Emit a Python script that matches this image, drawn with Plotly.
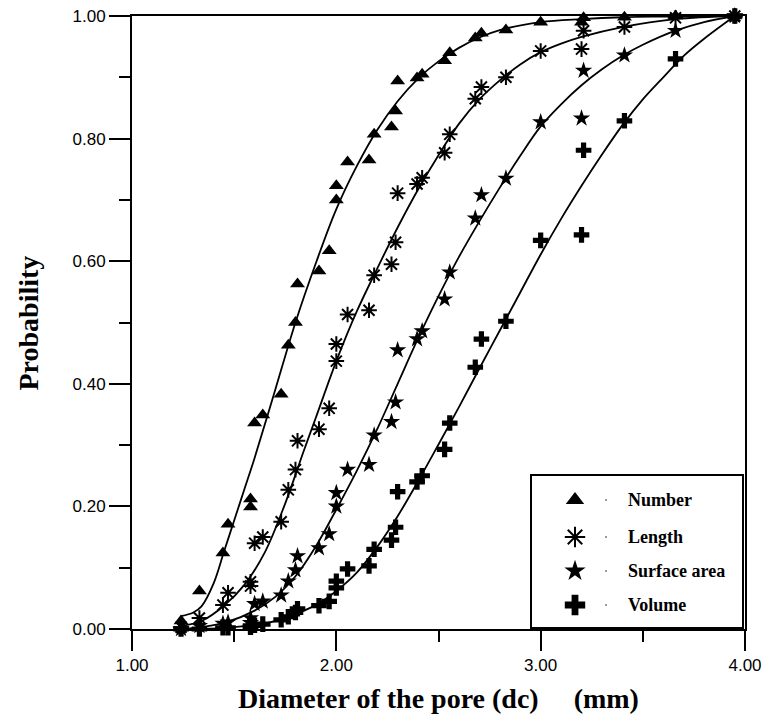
import plotly.graph_objects as go

# ---------------- data ----------------
series_names = ["Number", "Length", "Surface area", "Volume"]

x_points = [1.24, 1.33, 1.445, 1.47, 1.58, 1.58, 1.60, 1.64, 1.73, 1.765, 1.80, 1.81,
            1.915, 1.965, 2.0, 2.0, 2.055, 2.16, 2.185, 2.27, 2.29, 2.30, 2.395, 2.42,
            2.53, 2.555, 2.68, 2.71, 2.83, 3.0, 3.2, 3.21, 3.41, 3.66, 3.95]

number_y = [0.013, 0.062, 0.124, 0.171, 0.199, 0.212, 0.336, 0.349, 0.383, 0.463, 0.50, 0.563,
            0.584, 0.617, 0.70, 0.723, 0.762, 0.765, 0.807, 0.819, 0.845, 0.894, 0.899, 0.905,
            0.927, 0.94, 0.964, 0.972, 0.977, 0.99, 0.99, 0.997, 0.998, 1.0, 1.0]
length_y = [0.003, 0.018, 0.039, 0.059, 0.07, 0.077, 0.14, 0.15, 0.175, 0.227, 0.26, 0.307,
            0.326, 0.36, 0.437, 0.465, 0.513, 0.52, 0.577, 0.595, 0.631, 0.711, 0.726, 0.736,
            0.777, 0.807, 0.865, 0.884, 0.90, 0.943, 0.946, 0.976, 0.982, 0.997, 1.0]
surface_y = [0.0, 0.005, 0.009, 0.011, 0.01, 0.018, 0.041, 0.045, 0.055, 0.078, 0.096, 0.119,
             0.132, 0.155, 0.20, 0.222, 0.26, 0.268, 0.316, 0.338, 0.37, 0.455, 0.473, 0.486,
             0.538, 0.582, 0.67, 0.708, 0.735, 0.827, 0.833, 0.911, 0.936, 0.976, 1.0]
volume_y = [0.0, 0.0, 0.002, 0.002, 0.003, 0.005, 0.006, 0.008, 0.015, 0.02, 0.027, 0.033,
            0.038, 0.045, 0.067, 0.078, 0.098, 0.103, 0.13, 0.145, 0.166, 0.224, 0.24, 0.25,
            0.293, 0.336, 0.427, 0.473, 0.502, 0.634, 0.643, 0.781, 0.829, 0.93, 1.0]

# fitted curves
number_fit_x = [1.24, 1.30, 1.34, 1.40, 1.45, 1.50, 1.55, 1.60, 1.70, 1.80, 1.90, 2.0, 2.1,
                2.2, 2.3, 2.4, 2.5, 2.6, 2.7, 2.8, 3.0, 3.2, 3.4, 3.6, 3.95]
number_fit_y = [0.021, 0.027, 0.037, 0.075, 0.126, 0.177, 0.228, 0.279, 0.389, 0.50, 0.597,
                0.685, 0.755, 0.814, 0.861, 0.898, 0.926, 0.948, 0.965, 0.977, 0.99, 0.995,
                0.998, 0.999, 1.0]
length_fit_x = [1.24, 1.34, 1.45, 1.55, 1.65, 1.75, 1.84, 1.9, 2.0, 2.1, 2.2, 2.3, 2.4, 2.5,
                2.6, 2.7, 2.8, 2.9, 3.0, 3.1, 3.2, 3.4, 3.66, 3.95]
length_fit_y = [0.005, 0.013, 0.038, 0.072, 0.125, 0.205, 0.29, 0.345, 0.437, 0.518, 0.588,
                0.655, 0.717, 0.773, 0.824, 0.864, 0.895, 0.921, 0.941, 0.955, 0.966, 0.982,
                0.995, 1.0]
surface_fit_x = [1.24, 1.34, 1.47, 1.6, 1.7, 1.8, 1.9, 2.0, 2.1, 2.2, 2.3, 2.4, 2.5, 2.6,
                 2.7, 2.8, 2.9, 3.0, 3.1, 3.2, 3.3, 3.4, 3.5, 3.66, 3.8, 3.95]
surface_fit_y = [0.0, 0.003, 0.012, 0.03, 0.052, 0.086, 0.135, 0.195, 0.258, 0.326, 0.40,
                 0.474, 0.543, 0.607, 0.665, 0.72, 0.772, 0.82, 0.856, 0.887, 0.913, 0.935,
                 0.953, 0.976, 0.99, 1.0]
volume_fit_x = [1.24, 1.34, 1.5, 1.665, 1.79, 1.91, 2.0, 2.1, 2.2, 2.3, 2.4, 2.5, 2.6, 2.7,
                2.8, 2.9, 3.0, 3.1, 3.2, 3.3, 3.4, 3.5, 3.6, 3.7, 3.8, 3.95]
volume_fit_y = [0.0, 0.0, 0.003, 0.01, 0.023, 0.041, 0.062, 0.092, 0.134, 0.184, 0.241, 0.301,
                0.362, 0.425, 0.487, 0.549, 0.611, 0.669, 0.723, 0.774, 0.822, 0.864, 0.9,
                0.935, 0.963, 1.0]

x_ticks = [1.0, 2.0, 3.0, 4.0]
x_tick_labels = ["1.00", "2.00", "3.00", "4.00"]
y_ticks = [0.0, 0.2, 0.4, 0.6, 0.8, 1.0]
y_tick_labels = ["0.00", "0.20", "0.40", "0.60", "0.80", "1.00"]

# ---------------- styling ----------------
W, H = 765, 717
L, R, T, B = 132, 20, 16, 88
PW, PH = W - L - R, H - T - B

symbols = ["triangle-up", "asterisk-open", "star", "cross"]
sizes = [13, 13, 13, 13]
legend_sizes = [16, 17, 16, 17]
ys_list = [number_y, length_y, surface_y, volume_y]
fits = [(number_fit_x, number_fit_y), (length_fit_x, length_fit_y),
        (surface_fit_x, surface_fit_y), (volume_fit_x, volume_fit_y)]

fig = go.Figure()

for (fx, fy) in fits:
    fig.add_trace(go.Scatter(x=fx, y=fy, mode="lines",
                             line=dict(color="black", width=1.8, shape="spline", smoothing=1.0),
                             showlegend=False, hoverinfo="skip", cliponaxis=False))

for name, sym, sz, yv in zip(series_names, symbols, sizes, ys_list):
    fig.add_trace(go.Scatter(x=x_points, y=yv, mode="markers", name=name,
                             marker=dict(symbol=sym, size=sz, color="black",
                                         line=dict(color="black", width=2 if "open" in sym else 0)),
                             showlegend=False, cliponaxis=False))

def px2fx(px):
    return (px - L) / PW

def py2fy(py):
    return (H - B - py) / PH

# manual legend
leg_rows = [500, 537, 571, 605]
leg_marker_x = 575
leg_dot_x = 606
leg_text_x = 626
for name, sym, sz, row in zip(series_names, symbols, legend_sizes, leg_rows):
    fig.add_trace(go.Scatter(x=[px2fx(leg_marker_x)], y=[py2fy(row)], mode="markers",
                             xaxis="x2", yaxis="y2",
                             marker=dict(symbol=sym, size=sz, color="black",
                                         line=dict(color="black", width=2 if "open" in sym else 0)),
                             showlegend=False, hoverinfo="skip", cliponaxis=False))
    fig.add_trace(go.Scatter(x=[px2fx(leg_dot_x)], y=[py2fy(row)], mode="markers",
                             xaxis="x2", yaxis="y2",
                             marker=dict(symbol="circle", size=1.5, color="black"),
                             showlegend=False, hoverinfo="skip", cliponaxis=False))
    fig.add_annotation(x=px2fx(leg_text_x), y=py2fy(row), xref="paper", yref="paper",
                       text=name, showarrow=False, xanchor="left", yanchor="middle",
                       font=dict(family="Liberation Serif", size=18, color="black", weight="bold"))

fig.add_shape(type="rect", xref="paper", yref="paper",
              x0=px2fx(531), x1=px2fx(743), y0=py2fy(628), y1=py2fy(475),
              line=dict(color="black", width=2), fillcolor="rgba(0,0,0,0)")

# axis titles
fig.add_annotation(x=0.5, y=py2fy(698), xref="paper", yref="paper",
                   text="Diameter of the pore (dc)" + "\u00a0" * 5 + "(mm)",
                   showarrow=False, xanchor="center", yanchor="middle",
                   font=dict(family="Liberation Serif", size=28, color="black", weight="bold"))
fig.add_annotation(x=px2fx(28), y=0.5, xref="paper", yref="paper",
                   text="Probability", textangle=-90,
                   showarrow=False, xanchor="center", yanchor="middle",
                   font=dict(family="Liberation Serif", size=28, color="black", weight="bold"))

tickfont = dict(family="Liberation Sans", size=17, color="black")
fig.update_layout(
    template="none",
    width=W, height=H,
    margin=dict(l=L, r=R, t=T, b=B, pad=0, autoexpand=False),
    paper_bgcolor="white", plot_bgcolor="white",
    showlegend=False,
    xaxis=dict(range=[1, 4], tickvals=x_ticks, ticktext=x_tick_labels, ticks="outside",
               ticklen=20, tickwidth=2, tickcolor="black", showgrid=False, zeroline=False,
               automargin=False,
               showline=True, linewidth=2, linecolor="black", mirror=True, tickfont=tickfont,
               minor=dict(tickvals=[1.5, 2.5, 3.5], ticks="outside", ticklen=11, tickwidth=2,
                          tickcolor="black", showgrid=False)),
    yaxis=dict(range=[0, 1], tickvals=y_ticks, ticktext=y_tick_labels, ticks="outside",
               ticklen=21, tickwidth=2, tickcolor="black", showgrid=False, zeroline=False,
               automargin=False,
               showline=True, linewidth=2, linecolor="black", mirror=True, tickfont=tickfont,
               minor=dict(tickvals=[0.1, 0.3, 0.5, 0.7, 0.9], ticks="outside", ticklen=11,
                          tickwidth=2, tickcolor="black", showgrid=False)),
    xaxis2=dict(range=[0, 1], overlaying="x", visible=False, fixedrange=True, automargin=False),
    yaxis2=dict(range=[0, 1], overlaying="y", visible=False, fixedrange=True, automargin=False),
)

fig.write_html("out.html")
